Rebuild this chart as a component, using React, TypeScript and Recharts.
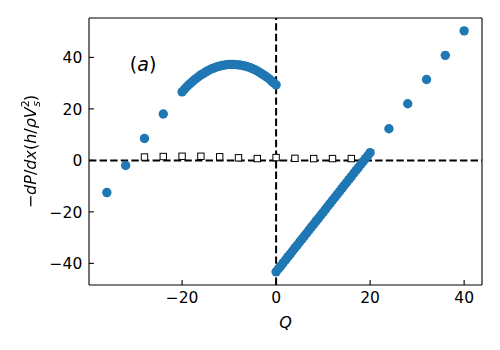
/** Pressure gradient vs flow rate Q: blue measured points, open squares near zero,
 * dashed zero lines, matplotlib-style inward ticks and boxed frame. */

import { Scatter, ScatterChart, XAxis, YAxis, ReferenceLine, ReferenceDot } from "recharts";

const BLUE = "#1f77b4";
const FONT = "DejaVu Sans, sans-serif";

// sparse branch points
const sparseQ = [-36, -32, -28, -24, 24, 28, 32, 36, 40];
const sparseVal = [-12.5, -2, 8.5, 18, 12.3, 22, 31.4, 40.8, 50.3];

// dense upper branch (Q < 0)
const upperQ = [
  -20, -19.5, -19, -18.5, -18, -17.5, -17, -16.5, -16, -15.5, -15, -14.5, -14, -13.5,
  -13, -12.5, -12, -11.5, -11, -10.5, -10, -9.5, -9, -8.5, -8, -7.5, -7, -6.5, -6,
  -5.5, -5, -4.5, -4, -3.5, -3, -2.5, -2, -1.5, -1, -0.5, 0,
];
const upperVal = [
  26.6, 27.6, 28.6, 29.5, 30.3, 31.1, 31.8, 32.5, 33.2, 33.7, 34.3, 34.8, 35.3, 35.7,
  36.0, 36.4, 36.6, 36.9, 37.0, 37.2, 37.3, 37.3, 37.3, 37.2, 37.1, 37.0, 36.8, 36.6,
  36.3, 36.0, 35.6, 35.2, 34.7, 34.2, 33.6, 33.0, 32.4, 31.7, 30.9, 30.1, 29.3,
];

// dense lower branch (Q > 0)
const lowerQ = [
  0, 0.5, 1, 1.5, 2, 2.5, 3, 3.5, 4, 4.5, 5, 5.5, 6, 6.5, 7, 7.5, 8, 8.5, 9, 9.5, 10,
  10.5, 11, 11.5, 12, 12.5, 13, 13.5, 14, 14.5, 15, 15.5, 16, 16.5, 17, 17.5, 18, 18.5,
  19, 19.5, 20,
];
const lowerVal = [
  -43.3, -42.1, -41.0, -39.8, -38.7, -37.5, -36.4, -35.2, -34.0, -32.9, -31.7, -30.6,
  -29.4, -28.3, -27.1, -25.9, -24.8, -23.6, -22.5, -21.3, -20.2, -19.0, -17.8, -16.7,
  -15.5, -14.4, -13.2, -12.1, -10.9, -9.7, -8.6, -7.4, -6.3, -5.1, -3.9, -2.8, -1.6,
  -0.5, 0.7, 1.8, 3.0,
];

// open squares near the zero line
const squareQ = [-28, -24, -20, -16, -12, -8, -4, 0, 4, 8, 12, 16];
const squareVal = [1.3, 1.5, 1.6, 1.6, 1.4, 1.0, 0.7, 1.1, 0.8, 0.7, 0.7, 0.7];

const xTicks = [-20, 0, 20, 40];
const yTicks = [-40, -20, 0, 20, 40];

const X_DOMAIN: [number, number] = [-39.8, 43.8];
const Y_DOMAIN: [number, number] = [-48.4, 55.3];

const zip = (xs: number[], ys: number[]) => xs.map((q, i) => ({ q, v: ys[i] }));

const bluePoints = [...zip(sparseQ, sparseVal), ...zip(upperQ, upperVal), ...zip(lowerQ, lowerVal)];
const squarePoints = zip(squareQ, squareVal);

const fmt = (v: number) => (v < 0 ? `\u2212${Math.abs(v)}` : `${v}`);

function XTick({ x, y, payload }: any) {
  return (
    <g>
      <line x1={x} x2={x} y1={y} y2={y - 4.9} stroke="#000" strokeWidth={1.1} />
      <text x={x} y={y + 18.3} textAnchor="middle" fontSize={15.5} fontFamily={FONT} fill="#000">
        {fmt(payload.value)}
      </text>
    </g>
  );
}

function YTick({ x, y, payload }: any) {
  return (
    <g>
      <line x1={x} x2={x + 4.9} y1={y} y2={y} stroke="#000" strokeWidth={1.1} />
      <text x={x - 6.7} y={y + 5.7} textAnchor="end" fontSize={15.5} fontFamily={FONT} fill="#000">
        {fmt(payload.value)}
      </text>
    </g>
  );
}

function XLabel({ viewBox }: any) {
  return (
    <text x={viewBox.x + viewBox.width / 2} y={viewBox.y + 42.5} textAnchor="middle"
      fontSize={16} fontStyle="italic" fontFamily={FONT} fill="#000">
      Q
    </text>
  );
}

function YLabel({ viewBox }: any) {
  const cx = 35.5;
  const cy = viewBox.y + viewBox.height / 2;
  return (
    <g transform={`translate(${cx},${cy}) rotate(-90)`} style={{ filter: "grayscale(1)" }}>
      <text x={0} y={0} textAnchor="middle" fontSize={16} fontFamily={FONT} fill="#000">
        <tspan>{"\u2212"}</tspan>
        <tspan fontStyle="italic">dP</tspan>
        <tspan>/</tspan>
        <tspan fontStyle="italic">dx</tspan>
        <tspan>(</tspan>
        <tspan fontStyle="italic">h</tspan>
        <tspan>/</tspan>
        <tspan fontStyle="italic">{"\u03c1V"}</tspan>
        <tspan fontSize={11} dy={-7}>2</tspan>
        <tspan fontSize={11} fontStyle="italic" dx={-6.5} dy={11}>s</tspan>
        <tspan dy={-4}>)</tspan>
      </text>
    </g>
  );
}

function PanelLabel({ viewBox }: any) {
  const cx = viewBox.x + viewBox.width / 2;
  const cy = viewBox.y + viewBox.height / 2;
  return (
    <text x={cx} y={cy + 6.5} textAnchor="middle" fontSize={19} fontFamily={FONT} fill="#000">
      <tspan>(</tspan>
      <tspan fontStyle="italic">a</tspan>
      <tspan>)</tspan>
    </text>
  );
}

const circleShape = (p: any) => <circle cx={p.cx} cy={p.cy} r={4.7} fill={BLUE} />;
const squareShape = (p: any) => (
  <rect x={p.cx - 3.2} y={p.cy - 3.2} width={6.4} height={6.4} fill="#fff" stroke="#000" strokeWidth={1} />
);

export default function App() {
  return (
    <div style={{ position: "absolute", left: 0, top: 0, width: 500, height: 350, background: "#fff" }}>
      <ScatterChart width={500} height={350} margin={{ top: 17, right: 17, bottom: 35, left: 29 }}>
        <XAxis dataKey="q" type="number" domain={X_DOMAIN} allowDataOverflow ticks={xTicks}
          height={30} tickSize={0} tickMargin={0} tick={<XTick />} stroke="#000" strokeWidth={1.1}
          label={{ content: <XLabel /> }} />
        <XAxis xAxisId="top" dataKey="q" orientation="top" type="number" domain={X_DOMAIN}
          allowDataOverflow height={1} tick={false} tickLine={false} stroke="#000" strokeWidth={1.1} />
        <YAxis dataKey="v" type="number" domain={Y_DOMAIN} allowDataOverflow ticks={yTicks}
          width={60} tickSize={0} tickMargin={0} tick={<YTick />} stroke="#000" strokeWidth={1.1}
          label={{ content: <YLabel /> }} />
        <YAxis yAxisId="right" dataKey="v" orientation="right" type="number" domain={Y_DOMAIN}
          allowDataOverflow width={1} tick={false} tickLine={false} stroke="#000" strokeWidth={1.1} />
        <Scatter data={bluePoints} shape={circleShape} isAnimationActive={false} />
        <ReferenceLine y={0} stroke="#000" strokeWidth={2} strokeDasharray="7.4 3.2" />
        <ReferenceLine x={0} stroke="#000" strokeWidth={2} strokeDasharray="7.4 3.2" />
        <Scatter data={squarePoints} xAxisId="top" yAxisId="right" shape={squareShape} isAnimationActive={false} />
        <ReferenceDot x={-28.3} y={37.3} r={0} fill="none" stroke="none"
          label={{ content: <PanelLabel /> }} />
      </ScatterChart>
    </div>
  );
}
